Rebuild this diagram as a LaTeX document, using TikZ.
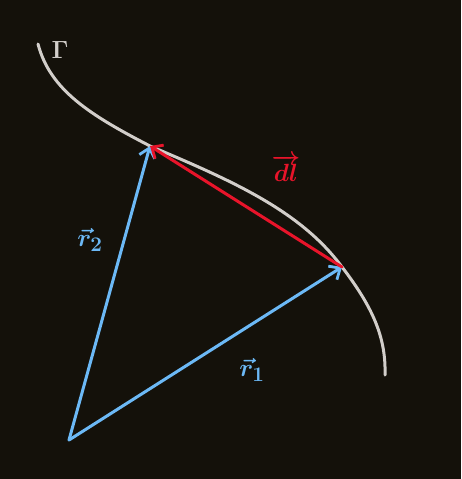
\documentclass[tikz,border=0pt]{standalone}
\usetikzlibrary{arrows.meta}
\definecolor{bg}{HTML}{14110A}
\definecolor{curvecol}{HTML}{D2CECA}
\definecolor{bluecol}{HTML}{6CB9F6}
\definecolor{redcol}{HTML}{E8142A}
\begin{document}
\begin{tikzpicture}[x=1pt,y=-1pt,
  vec/.style={line width=3pt,-{Straight Barb[length=9pt,width=16pt,line width=2.8pt]},line cap=round},
  lbl/.style={font=\fontsize{30}{34}\selectfont\boldmath}]
\fill[bg] (0,0) rectangle (461,479);
\useasboundingbox (0,0) rectangle (461,479);
\coordinate (O) at (69,440);
\coordinate (P2) at (150,146);
\coordinate (P1) at (342,267);
\draw[curvecol,line width=3pt,line cap=round] (38,44) .. controls (50,90) and (90,115) .. (150,146)
  .. controls (230,180) and (300,210) .. (342,267)
  .. controls (375,310) and (386,340) .. (385,375);
\draw[vec,bluecol] (O) -- (P1);
\draw[vec,bluecol] (O) -- (P2);
\draw[vec,redcol] (P1) -- (P2);
\node[lbl,curvecol] (G) at (60,50) {$\Gamma$};
\node[lbl,redcol] (dl) at (286,168) {$\overrightarrow{dl}$};
\node[lbl,bluecol] (r2) at (90,240) {$\vec{r}_2$};
\node[lbl,bluecol] (r1) at (252,370) {$\vec{r}_1$};
\end{tikzpicture}
\end{document}
